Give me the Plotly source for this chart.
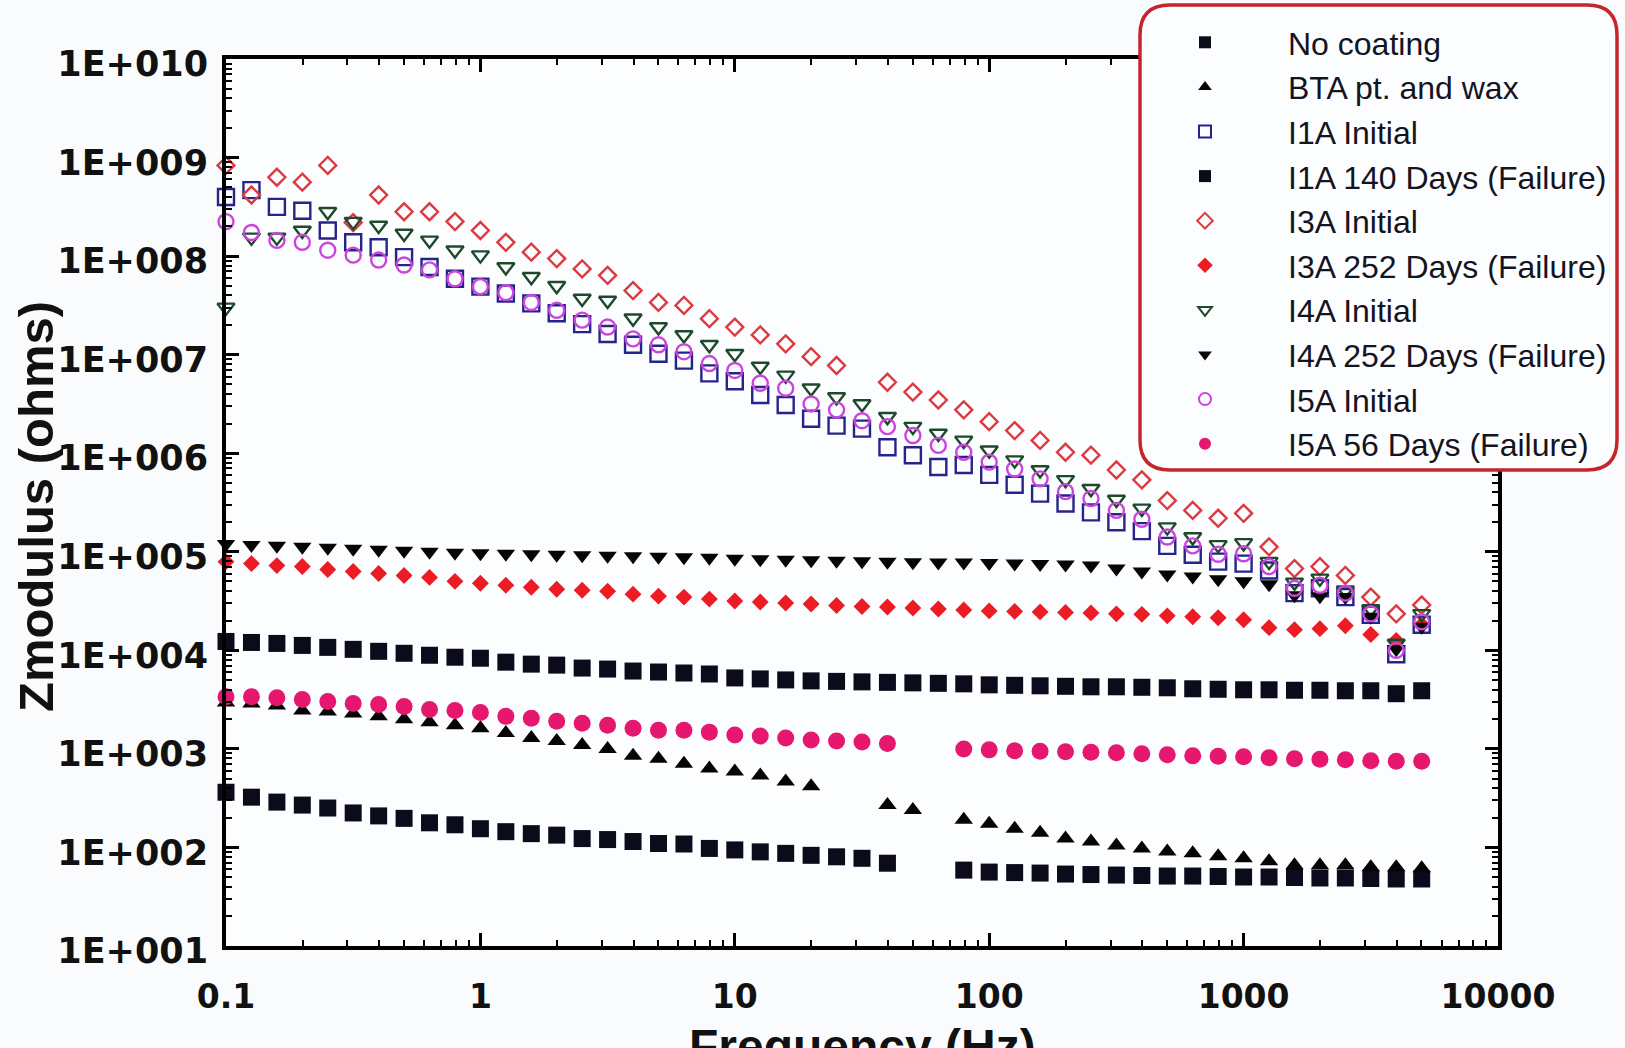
import plotly.graph_objects as go

# ---------------- data ----------------
freq_hz = [0.1, 0.1259, 0.1585, 0.1995, 0.2512, 0.3162, 0.3981, 0.5012, 0.631, 0.7943,
           1.0, 1.259, 1.585, 1.995, 2.512, 3.162, 3.981, 5.012, 6.31, 7.943,
           10.0, 12.59, 15.85, 19.95, 25.12, 31.62, 39.81, 50.12, 63.1, 79.43,
           100.0, 125.9, 158.5, 199.5, 251.2, 316.2, 398.1, 501.2, 631.0, 794.3,
           1000.0, 1259.0, 1585.0, 1995.0, 2512.0, 3162.0, 3981.0, 5012.0]

# |Z| values stored as log10(ohms); None = point not measured
log_no_coating = [2.56, 2.51, 2.46, 2.43, 2.40, 2.35, 2.32, 2.295, 2.25, 2.23,
                  2.19, 2.16, 2.14, 2.125, 2.09, 2.08, 2.06, 2.04, 2.035, 1.99,
                  1.975, 1.955, 1.94, 1.92, 1.905, 1.89, 1.84, None, None, 1.77,
                  1.75, 1.745, 1.74, 1.73, 1.725, 1.72, 1.715, 1.71, 1.71, 1.705,
                  1.70, 1.70, 1.695, 1.69, 1.69, 1.685, 1.68, 1.68]
log_bta_wax = [3.47, 3.46, 3.44, 3.39, 3.38, 3.36, 3.33, 3.30, 3.27, 3.24,
               3.21, 3.16, 3.11, 3.08, 3.04, 3.00, 2.93, 2.90, 2.85, 2.80,
               2.77, 2.73, 2.67, 2.62, None, None, 2.43, 2.38, None, 2.28,
               2.24, 2.19, 2.15, 2.09, 2.06, 2.02, 1.99, 1.96, 1.94, 1.91,
               1.89, 1.86, 1.82, 1.82, 1.82, 1.80, 1.80, 1.79]
log_i1a_initial = [8.60, 8.67, 8.50, 8.46, 8.26, 8.14, 8.09, 7.99, 7.89, 7.77,
                   7.69, 7.62, 7.52, 7.42, 7.31, 7.21, 7.10, 7.01, 6.94, 6.81,
                   6.73, 6.59, 6.49, 6.35, 6.28, 6.25, 6.06, 5.98, 5.86, 5.88,
                   5.78, 5.68, 5.59, 5.49, 5.40, 5.30, 5.21, 5.06, 4.97, 4.90,
                   4.88, 4.81, 4.58, 4.63, 4.54, 4.36, 3.96, 4.26]
log_i1a_140d = [4.09, 4.08, 4.07, 4.05, 4.03, 4.01, 3.99, 3.97, 3.95, 3.93,
                3.92, 3.88, 3.86, 3.85, 3.82, 3.81, 3.79, 3.78, 3.77, 3.76,
                3.72, 3.71, 3.70, 3.69, 3.685, 3.68, 3.675, 3.67, 3.665, 3.66,
                3.65, 3.645, 3.64, 3.635, 3.63, 3.63, 3.625, 3.62, 3.61, 3.605,
                3.60, 3.60, 3.595, 3.595, 3.59, 3.59, 3.56, 3.59]
log_i3a_initial = [8.92, 8.62, 8.80, 8.75, 8.92, 8.34, 8.62, 8.45, 8.45, 8.35,
                   8.26, 8.14, 8.04, 7.975, 7.87, 7.805, 7.65, 7.53, 7.50, 7.365,
                   7.28, 7.20, 7.11, 6.98, 6.89, None, 6.72, 6.62, 6.54, 6.44,
                   6.32, 6.23, 6.13, 6.01, 5.98, 5.83, 5.73, 5.52, 5.42, 5.34,
                   5.39, 5.05, 4.83, 4.85, 4.76, 4.54, 4.37, 4.46]
log_i3a_252d = [4.90, 4.88, 4.86, 4.85, 4.82, 4.80, 4.78, 4.76, 4.74, 4.70,
                4.68, 4.66, 4.64, 4.62, 4.61, 4.60, 4.57, 4.55, 4.54, 4.52,
                4.50, 4.49, 4.48, 4.47, 4.455, 4.445, 4.44, 4.43, 4.42, 4.41,
                4.40, 4.395, 4.39, 4.385, 4.38, 4.37, 4.365, 4.35, 4.34, 4.33,
                4.31, 4.23, 4.21, 4.22, 4.25, 4.16, 4.10, 4.26]
log_i4a_initial = [7.48, 8.19, 8.19, 8.26, 8.45, 8.35, 8.31, 8.23, 8.16, 8.06,
                   8.01, 7.89, 7.79, 7.70, 7.57, 7.55, 7.37, 7.28, 7.20, 7.10,
                   7.01, 6.88, 6.79, 6.66, 6.57, 6.50, 6.37, 6.27, 6.20, 6.13,
                   6.03, 5.93, 5.83, 5.73, 5.64, 5.53, 5.44, 5.25, 5.15, 5.07,
                   5.09, 4.90, 4.69, 4.73, 4.61, 4.42, 4.07, 4.37]
log_i4a_252d = [5.08, 5.07, 5.06, 5.05, 5.04, 5.03, 5.02, 5.01, 5.00, 4.99,
                4.985, 4.98, 4.975, 4.97, 4.965, 4.96, 4.955, 4.95, 4.945, 4.94,
                4.93, 4.925, 4.92, 4.915, 4.91, 4.905, 4.90, 4.895, 4.89, 4.89,
                4.885, 4.88, 4.875, 4.87, 4.86, 4.83, 4.80, 4.77, 4.75, 4.72,
                4.70, 4.67, 4.56, 4.55, 4.54, 4.34, 4.01, 4.24]
log_i5a_initial = [8.35, 8.24, 8.16, 8.14, 8.06, 8.01, 7.96, 7.91, 7.86, 7.77,
                   7.69, 7.63, 7.53, 7.45, 7.35, 7.28, 7.16, 7.10, 7.03, 6.91,
                   6.84, 6.71, 6.66, 6.50, 6.44, 6.33, 6.27, 6.18, 6.08, 6.01,
                   5.91, 5.84, 5.74, 5.61, 5.54, 5.42, 5.33, 5.15, 5.06, 4.975,
                   4.98, 4.85, 4.63, 4.66, 4.58, 4.37, 4.00, 4.29]
log_i5a_56d = [3.53, 3.53, 3.52, 3.50, 3.48, 3.46, 3.45, 3.43, 3.40, 3.39,
               3.37, 3.33, 3.31, 3.28, 3.26, 3.24, 3.21, 3.19, 3.19, 3.17,
               3.14, 3.13, 3.11, 3.09, 3.08, 3.07, 3.055, None, None, 3.00,
               2.99, 2.98, 2.975, 2.97, 2.965, 2.96, 2.95, 2.94, 2.93, 2.925,
               2.92, 2.91, 2.90, 2.895, 2.89, 2.88, 2.875, 2.875]

series_names = ["No coating", "BTA pt. and wax", "I1A Initial", "I1A 140 Days (Failure)",
                "I3A Initial", "I3A 252 Days (Failure)", "I4A Initial",
                "I4A 252 Days (Failure)", "I5A Initial", "I5A 56 Days (Failure)"]
series_logs = [log_no_coating, log_bta_wax, log_i1a_initial, log_i1a_140d,
               log_i3a_initial, log_i3a_252d, log_i4a_initial, log_i4a_252d,
               log_i5a_initial, log_i5a_56d]

y_tick_vals = [1e1, 1e2, 1e3, 1e4, 1e5, 1e6, 1e7, 1e8, 1e9, 1e10]
y_tick_text = ["1E+001", "1E+002", "1E+003", "1E+004", "1E+005",
               "1E+006", "1E+007", "1E+008", "1E+009", "1E+010"]
x_tick_vals = [0.1, 1, 10, 100, 1000, 10000]
x_tick_text = ["0.1", "1", "10", "100", "1000", "10000"]

# ---------------- styles ----------------
styles = [
    dict(symbol="square", size=17, color="#0b0b1c", line=dict(width=0)),
    dict(symbol="triangle-up", size=16, color="#050505", line=dict(width=0)),
    dict(symbol="square-open", size=16, color="#24248a", line=dict(width=2.4, color="#24248a")),
    dict(symbol="square", size=17, color="#0b0b1c", line=dict(width=0)),
    dict(symbol="diamond-open", size=13, color="#dc3a40", line=dict(width=2.4, color="#dc3a40")),
    dict(symbol="diamond", size=13, color="#ec1c24", line=dict(width=0)),
    dict(symbol="triangle-down-open", size=15, color="#1e4a2c", line=dict(width=2.4, color="#1e4a2c")),
    dict(symbol="triangle-down", size=16, color="#050505", line=dict(width=0)),
    dict(symbol="circle-open", size=15, color="#cc44dd", line=dict(width=2.4, color="#cc44dd")),
    dict(symbol="circle", size=17, color="#e5176f", line=dict(width=0)),
]

fig = go.Figure()
for name, logs, st in zip(series_names, series_logs, styles):
    z = [None if v is None else 10 ** v for v in logs]
    fig.add_trace(go.Scatter(x=freq_hz, y=z, mode="markers", name=name,
                             marker=st, cliponaxis=False))

# ---------------- layout geometry (pixels of the 1625x1048 page) ----------------
W, H = 1625, 1048
PL, PR, PT, PB = 226, 1498, 59, 946


def px_x(p):
    return (p - PL) / (PR - PL)


def px_y(p):
    return (PB - p) / (PB - PT)


minor_x = [m * 10 ** e for e in range(-1, 4) for m in range(2, 10)]
minor_y = [m * 10 ** e for e in range(1, 10) for m in range(2, 10)]

fig.update_xaxes(type="log", range=[-1, 4], tickmode="array",
                 tickvals=x_tick_vals, ticktext=x_tick_text,
                 tickfont=dict(family="DejaVu Sans", size=33, color="#111111", weight="bold"),
                 ticks="inside", ticklen=13, tickwidth=3, tickcolor="#000000",
                 ticklabelstandoff=18,
                 minor=dict(tickmode="array", tickvals=minor_x, ticks="inside",
                            ticklen=6, tickwidth=2, tickcolor="#000000", showgrid=False),
                 showline=True, linewidth=4, linecolor="#000000", mirror="ticks",
                 showgrid=False, zeroline=False)
fig.update_yaxes(type="log", range=[1, 10], tickmode="array",
                 tickvals=y_tick_vals, ticktext=y_tick_text,
                 tickfont=dict(family="DejaVu Sans", size=35, color="#111111", weight="bold"),
                 ticks="inside", ticklen=13, tickwidth=3, tickcolor="#000000",
                 ticklabelstandoff=7, ticklabelshift=5,
                 minor=dict(tickmode="array", tickvals=minor_y, ticks="inside",
                            ticklen=6, tickwidth=2, tickcolor="#000000", showgrid=False),
                 showline=True, linewidth=4, linecolor="#000000", mirror="ticks",
                 showgrid=False, zeroline=False)

# rounded legend box
L, R, T, B = px_x(1140), px_x(1617), px_y(5), px_y(470)
rx, ry = 30 / (PR - PL), 30 / (PB - PT)
box_path = (f"M {L+rx},{T} L {R-rx},{T} Q {R},{T} {R},{T-ry} L {R},{B+ry} "
            f"Q {R},{B} {R-rx},{B} L {L+rx},{B} Q {L},{B} {L},{B+ry} "
            f"L {L},{T-ry} Q {L},{T} {L+rx},{T} Z")
fig.add_shape(type="path", path=box_path, xref="paper", yref="paper",
              fillcolor="#fcfdfe", line=dict(color="#c4262c", width=3.5), layer="above")

fig.add_annotation(text="Zmodulus (ohms)", textangle=-90, showarrow=False,
                   xref="paper", yref="paper", x=px_x(36), y=px_y(507),
                   xanchor="center", yanchor="middle",
                   font=dict(family="Liberation Sans", size=49, color="#111111", weight="bold"))
fig.add_annotation(text="Frequency (Hz)", showarrow=False,
                   xref="paper", yref="paper", x=px_x(862), y=px_y(1018),
                   xanchor="center", yanchor="top",
                   font=dict(family="Liberation Sans", size=48, color="#111111", weight="bold"))

fig.update_layout(
    width=W, height=H, autosize=False,
    margin=dict(l=PL, r=W - PR, t=PT, b=H - PB, autoexpand=False),
    paper_bgcolor="#fafbfc", plot_bgcolor="#fcfdfe",
    showlegend=True,
    legend=dict(x=px_x(1122), y=px_y(15), xanchor="left", yanchor="top",
                bgcolor="rgba(0,0,0,0)", borderwidth=0, itemwidth=156,
                itemsizing="constant",
                font=dict(family="Liberation Sans", size=32, color="#14141e")),
)

fig.write_html("out.html")
